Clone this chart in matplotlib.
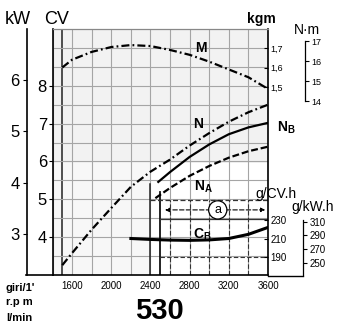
import numpy as np
import matplotlib
matplotlib.use('Agg')
import matplotlib.pyplot as plt
from matplotlib.lines import Line2D
from matplotlib.patches import Rectangle

plt.rcParams['font.family'] = ['Liberation Sans', 'DejaVu Sans']
plt.rcParams['mathtext.fontset'] = 'custom'
plt.rcParams['mathtext.rm'] = 'Liberation Sans'
plt.rcParams['mathtext.bf'] = 'Liberation Sans:bold'

# --- data ---
rpm_m = [1500, 1600, 1800, 2000, 2200, 2400, 2600, 2800, 3000, 3200, 3400, 3600]
torque_kgm = [1.60, 1.64, 1.68, 1.705, 1.715, 1.71, 1.69, 1.665, 1.63, 1.59, 1.55, 1.49]

rpm_n = [1500, 1600, 1800, 2000, 2200, 2400, 2600, 2800, 3000, 3200, 3400, 3600]
power_n = [3.26, 3.58, 4.2, 4.77, 5.33, 5.73, 6.05, 6.42, 6.75, 7.05, 7.3, 7.5]

rpm_nb = [2480, 2600, 2800, 3000, 3200, 3400, 3600]
power_nb = [5.46, 5.72, 6.12, 6.45, 6.72, 6.9, 7.02]

rpm_na = [2450, 2600, 2800, 3000, 3200, 3400, 3600]
power_na = [5.03, 5.3, 5.62, 5.88, 6.1, 6.27, 6.39]

rpm_cb = [2200, 2400, 2600, 2800, 3000, 3200, 3400, 3600]
cons_cb = [210, 209, 208.3, 208, 208.5, 210, 214.5, 222]

rpm_ticks = [1600, 2000, 2400, 2800, 3200, 3600]
cv_ticks = [4, 5, 6, 7, 8]
kw_ticks = [3, 4, 5, 6]
kgm_ticks = [1.5, 1.6, 1.7]
nm_ticks = [14, 15, 16, 17]
gcv_ticks = [190, 210, 230]
gkw_ticks = [250, 270, 290, 310]

CV_PER_KW = 1.3596
NM_PER_KGM = 9.80665

W, H = 352, 329
L, R, T, B = 52.5, 268, 29, 275

def fx(px):
    return px / W

def fy(py):
    return 1 - py / H

fig = plt.figure(figsize=(W / 100, H / 100), dpi=100)
ax = fig.add_axes([fx(L), fy(B), (R - L) / W, (B - T) / H])
ax.set_xlim(1400, 3600)
ax.set_ylim(3.0, 9.5)

# light scan tint
ax.add_patch(Rectangle((1400, 5.96), 2200, 3.54, color='#f2f2f2', zorder=0, lw=0))
ax.add_patch(Rectangle((1400, 3.0), 1000, 2.96, color='#f7f7f7', zorder=0, lw=0))

# grid
for r in range(1400, 3601, 200):
    ax.axvline(r, color='#a5a5a5', lw=0.8, zorder=1)
ax.axvline(1500, color='#222222', lw=1.1, zorder=1)
for c in np.arange(3.5, 9.01, 0.5):
    ax.axhline(c, color='#a5a5a5', lw=0.8, zorder=1)
# darker grid in the consumption box
for r in range(2600, 3601, 200):
    ax.plot([r, r], [3.0, 4.98], color='#333333', lw=0.8, ls=(0, (4, 2)), zorder=1)
ax.plot([2500, 2500], [3.0, 5.2], color='#111111', lw=1.3, zorder=1)
ax.plot([2400, 2400], [3.0, 5.4], color='#222222', lw=1.1, zorder=1)
ax.plot([2400, 3600], [4.98, 4.98], color='#333333', lw=0.9, ls=(0, (4, 2)), zorder=1)
ax.plot([2500, 3600], [4.47, 4.47], color='#333333', lw=0.9, zorder=1)
ax.plot([2500, 3600], [3.47, 3.47], color='#333333', lw=0.8, ls=(0, (4, 2)), zorder=1)

for s in ['left', 'right', 'bottom']:
    ax.spines[s].set_color('black')
    ax.spines[s].set_linewidth(1.2)
ax.spines['top'].set_color('#888888')
ax.spines['top'].set_linewidth(0.9)

ax.set_xticks(rpm_ticks)
ax.set_xticklabels([str(v) for v in rpm_ticks], fontsize=7)
ax.tick_params(axis='x', length=0, pad=4)
ax.set_yticks(cv_ticks)
ax.set_yticklabels([str(v) for v in cv_ticks], fontsize=12)
ax.tick_params(axis='y', direction='out', length=3, pad=1)

def twin():
    t = ax.twinx()
    for s in t.spines.values():
        s.set_visible(False)
    return t

# kW axis
ax_kw = twin()
ax_kw.set_ylim(3.0 / CV_PER_KW, 9.5 / CV_PER_KW)
ax_kw.yaxis.tick_left()
ax_kw.spines['left'].set_visible(True)
ax_kw.spines['left'].set_position(('axes', -(L - 26.5) / (R - L)))
ax_kw.spines['left'].set_linewidth(1.2)
ax_kw.set_yticks(kw_ticks)
ax_kw.set_yticklabels([str(v) for v in kw_ticks], fontsize=12)
ax_kw.tick_params(axis='y', direction='out', length=3, pad=2)

# kgm axis
kgm_lo = 1.5 - (B - 87) / 195
kgm_hi = 1.5 + (87 - T) / 195
ax_kgm = twin()
ax_kgm.set_ylim(kgm_lo, kgm_hi)
ax_kgm.set_yticks(kgm_ticks)
ax_kgm.set_yticklabels([f'{v:.1f}'.replace('.', ',') for v in kgm_ticks], fontsize=6.5)
ax_kgm.tick_params(axis='y', direction='in', length=3, pad=2)

# N.m axis
ax_nm = twin()
ax_nm.set_ylim(kgm_lo * NM_PER_KGM, kgm_hi * NM_PER_KGM)
ax_nm.spines['right'].set_visible(True)
ax_nm.spines['right'].set_position(('axes', (305 - L) / (R - L)))
ax_nm.spines['right'].set_bounds(14, 17)
ax_nm.spines['right'].set_linewidth(0.9)
ax_nm.set_yticks(nm_ticks)
ax_nm.set_yticklabels([str(v) for v in nm_ticks], fontsize=6.5)
ax_nm.tick_params(axis='y', direction='out', length=3, pad=1.5)

# g/CV.h axis
g_lo = 230 - (B - 220) / 0.925
g_hi = 230 + (220 - T) / 0.925
ax_gcv = twin()
ax_gcv.set_ylim(g_lo, g_hi)
ax_gcv.set_yticks(gcv_ticks)
ax_gcv.set_yticklabels([str(v) for v in gcv_ticks], fontsize=7)
ax_gcv.tick_params(axis='y', direction='in', length=3, pad=2)

# g/kW.h axis
ax_gkw = twin()
ax_gkw.set_ylim(g_lo * CV_PER_KW, g_hi * CV_PER_KW)
ax_gkw.spines['right'].set_visible(True)
ax_gkw.spines['right'].set_position(('axes', (303 - L) / (R - L)))
ax_gkw.spines['right'].set_bounds(g_lo * CV_PER_KW, 312)
ax_gkw.spines['right'].set_linewidth(0.9)
ax_gkw.set_yticks(gkw_ticks)
ax_gkw.set_yticklabels([str(v) for v in gkw_ticks], fontsize=7)
ax_gkw.tick_params(axis='y', direction='out', length=3, pad=1.5)

# curves
dashdot = (0, (3.6, 1.4, 0.8, 1.4))
ax_kgm.plot(rpm_m, torque_kgm, color='black', lw=1.6, ls=dashdot, zorder=3)
ax.plot(rpm_n, power_n, color='black', lw=1.6, ls=dashdot, zorder=3)
ax.plot(rpm_nb, power_nb, color='black', lw=1.6, zorder=3)
ax.plot(rpm_na, power_na, color='black', lw=1.6, ls=(0, (3.1, 1.3)), zorder=3)
ax_gcv.plot(rpm_cb, cons_cb, color='black', lw=2.2, zorder=3)

# range marker "a"
ax.annotate('', xy=(2520, 4.72), xytext=(3600, 4.72),
            arrowprops=dict(arrowstyle='<|-|>', color='black', lw=0.8,
                            ls=(0, (4, 2)), mutation_scale=6))
ax.text(3087, 4.72, 'a', ha='center', va='center', fontsize=9, zorder=5,
        bbox=dict(boxstyle='circle,pad=0.25', fc='white', ec='black', lw=0.9))

# curve labels
ax.text(2913, 9.0, 'M', fontsize=10, fontweight='bold', ha='center', va='center', zorder=5)
ax.text(2882, 6.99, 'N', fontsize=10, fontweight='bold', ha='center', va='center', zorder=5)
ax.text(3690, 6.88, r'$\mathbf{N}_{\mathbf{B}}$', fontsize=10, ha='left', va='center',
        clip_on=False, zorder=5)
ax.text(2840, 5.33, r'$\mathbf{N}_{\mathbf{A}}$', fontsize=10, ha='left', va='center', zorder=5)
ax.text(2830, 4.06, r'$\mathbf{C}_{\mathbf{B}}$', fontsize=10, ha='left', va='center', zorder=5)

# axis titles and notes
fig.text(fx(5), fy(20), 'kW', fontsize=13, ha='left', va='center')
fig.text(fx(57), fy(20), 'CV', fontsize=13, ha='center', va='center')
fig.text(fx(261), fy(19), 'kgm', fontsize=10, fontweight='bold', ha='center', va='center')
fig.text(fx(307), fy(30), 'N·m', fontsize=10, ha='center', va='center')
fig.text(fx(276), fy(194), 'g/CV.h', fontsize=10, ha='center', va='center')
fig.text(fx(313), fy(207), 'g/kW.h', fontsize=10, ha='center', va='center')
fig.text(fx(6), fy(288), "giri/1'", fontsize=8, fontweight='bold', ha='left', va='center')
fig.text(fx(6), fy(302), 'r.p m', fontsize=8, fontweight='bold', ha='left', va='center')
fig.text(fx(6), fy(318), 'l/min', fontsize=8, fontweight='bold', ha='left', va='center')
fig.text(fx(159), fy(311), '530', fontsize=21, fontweight='bold', ha='center', va='center')

# bottom line running under the extra axes
fig.add_artist(Line2D([fx(26), fx(L)], [fy(B), fy(B)], color='black', lw=1.2))
fig.add_artist(Line2D([fx(R), fx(303)], [fy(B + 1), fy(B + 1)], color='black', lw=1.0))

fig.savefig('out.png', dpi=100)
